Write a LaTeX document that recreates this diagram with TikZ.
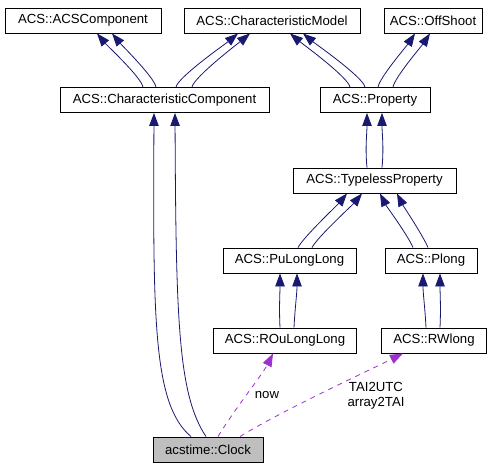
\documentclass[tikz,border=0pt]{standalone}
\usepackage{fontspec}
\setmainfont{Liberation Sans}
\usetikzlibrary{arrows.meta}
\definecolor{Edge}{HTML}{191970}
\definecolor{Use}{HTML}{9A32CD}
\definecolor{Here}{HTML}{BFBFBF}

\begin{document}
\begin{tikzpicture}[
        x=1pt, y=-1pt,
        cls/.style={
            rectangle,
            draw=black,
            fill=white,
            line width=0.9pt,
            minimum height=25pt,
            inner sep=0pt,
            font=\fontsize{13.2}{15}\selectfont
        },
        current/.style={cls, fill=Here},
        inh/.style={-{Triangle[length=13pt,width=9.5pt]}, line width=0.8pt, draw=Edge},
        usage/.style={-{Triangle[length=13pt,width=9.5pt]}, line width=0.8pt, draw=Use,
            dash pattern=on 5pt off 5pt},
        lbl/.style={font=\fontsize{13.2}{15}\selectfont, inner sep=0pt}
    ]
    \useasboundingbox (0,0) rectangle (501,469);

    \node[cls, minimum width=156pt] (comp) at (83,20.5) {ACS::ACSComponent};
    \node[cls, minimum width=176pt] (model) at (272,20.5) {ACS::CharacteristicModel};
    \node[cls, minimum width=98pt] (offshoot) at (433,20.5) {ACS::OffShoot};
    \node[cls, minimum width=209pt] (charcomp) at (164.5,100) {ACS::CharacteristicComponent};
    \node[cls, minimum width=110pt] (property) at (375,100) {ACS::Property};
    \node[cls, minimum width=163pt] (typeless) at (374.5,180.5) {ACS::TypelessProperty};
    \node[cls, minimum width=133pt] (pull) at (289.5,260.5) {ACS::PuLongLong};
    \node[cls, minimum width=92pt] (plong) at (431,260.5) {ACS::Plong};
    \node[cls, minimum width=143pt] (roull) at (285,340.5) {ACS::ROuLongLong};
    \node[cls, minimum width=105pt] (rwlong) at (434,340.5) {ACS::RWlong};
    \node[current, minimum width=110pt] (clock) at (208,449.5) {acstime::Clock};

    % Inheritance
    \draw[inh] ([xshift=-21.5pt]charcomp.north) .. controls +(-2,-10) and +(10,12) .. ([xshift=14pt]comp.south);
    \draw[inh] ([xshift=-8.5pt]charcomp.north) .. controls +(-2,-10) and +(10,12) .. ([xshift=29pt]comp.south);
    \draw[inh] ([xshift=11.5pt]charcomp.north) .. controls +(2,-10) and +(-12,10) .. ([xshift=-34pt]model.south);
    \draw[inh] ([xshift=27.5pt]charcomp.north) .. controls +(2,-10) and +(-12,10) .. ([xshift=-22pt]model.south);
    \draw[inh] ([xshift=-25pt]property.north) .. controls +(-2,-10) and +(12,10) .. ([xshift=18pt]model.south);
    \draw[inh] ([xshift=-10pt]property.north) .. controls +(-2,-10) and +(12,10) .. ([xshift=31pt]model.south);
    \draw[inh] ([xshift=3pt]property.north) .. controls +(2,-10) and +(-8,12) .. ([xshift=-18pt]offshoot.south);
    \draw[inh] ([xshift=18pt]property.north) .. controls +(2,-10) and +(-8,12) .. ([xshift=-3pt]offshoot.south);
    \draw[inh] ([xshift=-7.5pt]typeless.north) .. controls +(-2,-20) and +(0,20) .. ([xshift=-8pt]property.south);
    \draw[inh] ([xshift=7.5pt]typeless.north) .. controls +(2,-20) and +(0,20) .. ([xshift=7pt]property.south);
    \draw[inh] ([xshift=8.5pt]pull.north) .. controls +(5,-10) and +(-10,12) .. ([xshift=-27.5pt]typeless.south);
    \draw[inh] ([xshift=22.5pt]pull.north) .. controls +(5,-10) and +(-10,12) .. ([xshift=-12.5pt]typeless.south);
    \draw[inh] ([xshift=-18pt]plong.north) .. controls +(-5,-12) and +(6,12) .. ([xshift=5.5pt]typeless.south);
    \draw[inh] ([xshift=-3pt]plong.north) .. controls +(-5,-12) and +(6,12) .. ([xshift=22.5pt]typeless.south);
    \draw[inh] ([xshift=-5pt]roull.north) .. controls +(-1,-20) and +(0,20) .. ([xshift=-9.5pt]pull.south);
    \draw[inh] ([xshift=9pt]roull.north) .. controls +(1,-20) and +(0,20) .. ([xshift=7.5pt]pull.south);
    \draw[inh] ([xshift=-8pt]rwlong.north) .. controls +(-1,-20) and +(0,20) .. ([xshift=-8pt]plong.south);
    \draw[inh] ([xshift=6pt]rwlong.north) .. controls +(1,-20) and +(0,20) .. ([xshift=9pt]plong.south);
    \draw[inh] ([xshift=-17pt]clock.north) .. controls +(-38,-32) and +(-1,207) .. ([xshift=-10.5pt]charcomp.south);
    \draw[inh] ([xshift=-2pt]clock.north) .. controls +(-28,-42) and +(1,207) .. ([xshift=10.5pt]charcomp.south);

    % Usage
    \draw[usage] ([xshift=10pt]clock.north) .. controls +(15,-25) and +(-10,20) .. ([xshift=-12pt]roull.south);
    \draw[usage] ([xshift=32pt]clock.north) .. controls +(40,-25) and +(-30,15) .. ([xshift=-31pt]rwlong.south);
    \node[lbl] (nowlbl) at (267,395) {now};
    \node[lbl] (tailbl) at (376,387) {TAI2UTC};
    \node[lbl] (arrlbl) at (376,403) {array2TAI};
\end{tikzpicture}
\end{document}
